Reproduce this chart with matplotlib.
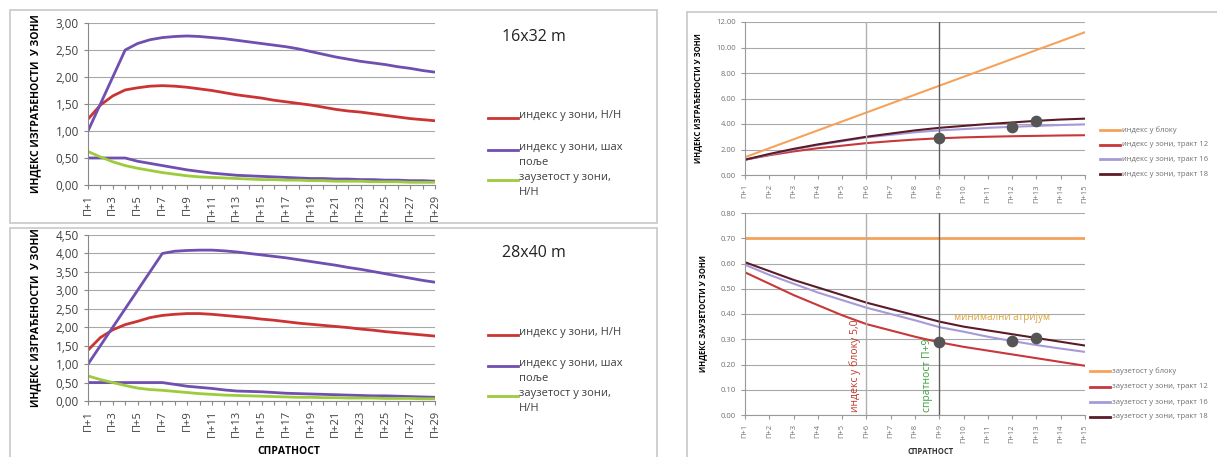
import matplotlib
matplotlib.use("Agg")
import matplotlib.pyplot as plt
from matplotlib.lines import Line2D
from matplotlib.patches import Rectangle

plt.rcParams['font.family'] = ['Open Sans', 'DejaVu Sans']

# === Data: left charts (П+1 .. П+29)
floors_left = [f"П+{i}" for i in range(1, 30)]

red_16 = [1.22, 1.48, 1.65, 1.76, 1.80, 1.83, 1.84, 1.83, 1.81, 1.78,
          1.75, 1.71, 1.67, 1.64, 1.61, 1.57, 1.54, 1.51, 1.48, 1.44,
          1.40, 1.37, 1.35, 1.32, 1.29, 1.26, 1.23, 1.21, 1.19]
purple_16 = [1.00, 1.50, 2.00, 2.50, 2.62, 2.69, 2.73, 2.75, 2.76, 2.75,
             2.73, 2.71, 2.68, 2.65, 2.62, 2.59, 2.56, 2.52, 2.47, 2.42,
             2.37, 2.33, 2.29, 2.26, 2.23, 2.19, 2.16, 2.12, 2.09]
purple_low_16 = [0.50, 0.50, 0.50, 0.50, 0.44, 0.40, 0.36, 0.32, 0.28, 0.25,
                 0.22, 0.20, 0.18, 0.17, 0.16, 0.15, 0.14, 0.13, 0.12, 0.12,
                 0.11, 0.11, 0.10, 0.10, 0.09, 0.09, 0.08, 0.08, 0.07]
green_16 = [0.62, 0.52, 0.43, 0.36, 0.31, 0.27, 0.23, 0.20, 0.17, 0.15,
            0.14, 0.13, 0.12, 0.11, 0.10, 0.10, 0.09, 0.09, 0.08, 0.08,
            0.07, 0.07, 0.07, 0.06, 0.06, 0.06, 0.05, 0.05, 0.05]

red_40 = [1.38, 1.72, 1.93, 2.07, 2.16, 2.26, 2.32, 2.35, 2.37, 2.37,
          2.35, 2.32, 2.29, 2.26, 2.22, 2.19, 2.15, 2.11, 2.08, 2.05,
          2.02, 1.99, 1.95, 1.92, 1.88, 1.85, 1.82, 1.79, 1.76]
purple_40 = [1.00, 1.50, 2.00, 2.50, 3.00, 3.50, 4.00, 4.06, 4.08, 4.09,
             4.09, 4.07, 4.04, 4.00, 3.96, 3.92, 3.88, 3.83, 3.78, 3.73,
             3.68, 3.62, 3.57, 3.51, 3.45, 3.39, 3.33, 3.27, 3.22]
purple_low_40 = [0.50, 0.50, 0.50, 0.50, 0.50, 0.50, 0.50, 0.45, 0.40, 0.37,
                 0.34, 0.30, 0.27, 0.26, 0.25, 0.23, 0.21, 0.20, 0.19, 0.18,
                 0.17, 0.16, 0.15, 0.14, 0.14, 0.13, 0.12, 0.11, 0.10]
green_40 = [0.68, 0.58, 0.50, 0.42, 0.35, 0.31, 0.29, 0.26, 0.23, 0.20,
            0.18, 0.16, 0.15, 0.14, 0.13, 0.12, 0.11, 0.10, 0.10, 0.09,
            0.09, 0.08, 0.08, 0.08, 0.07, 0.07, 0.07, 0.06, 0.06]

left_labels = ["индекс у зони, Н/Н", "индекс у зони, шах\nпоље", "заузетост у зони,\nН/Н"]

# === Data: right charts (П+1 .. П+15)
floors_right = [f"П+{i}" for i in range(1, 16)]

block_index = [1.4, 2.1, 2.8, 3.5, 4.2, 4.9, 5.6, 6.3, 7.0, 7.7, 8.4, 9.1, 9.8, 10.5, 11.2]
zone_index_12 = [1.20, 1.55, 1.85, 2.10, 2.30, 2.50, 2.65, 2.78, 2.88, 2.95, 3.00, 3.04, 3.07, 3.10, 3.12]
zone_index_16 = [1.20, 1.60, 2.00, 2.35, 2.65, 2.95, 3.15, 3.35, 3.50, 3.60, 3.70, 3.78, 3.85, 3.92, 3.97]
zone_index_18 = [1.20, 1.65, 2.05, 2.40, 2.70, 3.00, 3.25, 3.50, 3.70, 3.85, 4.00, 4.12, 4.25, 4.35, 4.42]

block_cov = [0.70] * 15
zone_cov_12 = [0.565, 0.52, 0.475, 0.435, 0.395, 0.36, 0.335, 0.31, 0.288, 0.27, 0.255, 0.24, 0.225, 0.21, 0.195]
zone_cov_16 = [0.595, 0.555, 0.52, 0.485, 0.455, 0.425, 0.40, 0.375, 0.348, 0.33, 0.31, 0.293, 0.277, 0.263, 0.25]
zone_cov_18 = [0.605, 0.57, 0.535, 0.505, 0.475, 0.445, 0.42, 0.395, 0.37, 0.35, 0.335, 0.32, 0.305, 0.29, 0.275]

# highlighted points (floor index, series)
dots_index = [(8, zone_index_12), (11, zone_index_16), (12, zone_index_18)]
dots_cov = [(8, zone_cov_12), (11, zone_cov_16), (12, zone_cov_18)]

index_labels = ["индекс у блоку", "индекс у зони, тракт 12", "индекс у зони, тракт 16", "индекс у зони, тракт 18"]
cov_labels = ["заузетост у блоку", "заузетост у зони, тракт 12", "заузетост у зони, тракт 16", "заузетост у зони, тракт 18"]

C_RED = "#cc3333"
C_PURPLE = "#6f4fb0"
C_GREEN = "#9ccb3c"
C_ORANGE = "#f5a35a"
C_RED2 = "#c8373a"
C_LILAC = "#a69ad8"
C_MAROON = "#5a1c28"
GRID = "#a8a8a8"

fig = plt.figure(figsize=(12.17, 4.57), dpi=100)
W, H = 1217, 457


def fx(px):
    return px / W


def fy(py):
    return 1 - py / H


# panel frames
for (x0, y0, x1, y1) in [(10, 10, 657, 223), (10, 228, 657, 470), (687, 12, 1230, 470)]:
    fig.add_artist(Rectangle((fx(x0), fy(y1)), fx(x1 - x0), (y1 - y0) / H, transform=fig.transFigure,
                             fill=False, edgecolor="#c8c8c8", linewidth=1.2))


def left_chart(rect, series, ymax, title, title_y, legend_y, xlabel=False):
    ax = fig.add_axes(rect)
    x = range(len(floors_left))
    for vals, col in series:
        ax.plot(x, vals, color=col, linewidth=2)
    ax.set_xlim(0, len(floors_left) - 1)
    ax.set_ylim(0, ymax)
    ticks = [i * 0.5 for i in range(int(ymax / 0.5) + 1)]
    ax.set_yticks(ticks)
    ax.set_yticklabels([f"{t:.2f}".replace(".", ",") for t in ticks], fontsize=8.5, color="#404040")
    ax.set_xticks(list(x))
    ax.set_xticklabels([l if i % 2 == 0 else "" for i, l in enumerate(floors_left)],
                       rotation=90, fontsize=8, color="#404040")
    ax.tick_params(axis="x", length=3, color="#888888")
    ax.tick_params(axis="y", length=3, color="#888888")
    ax.grid(axis="y", color=GRID, linewidth=0.8)
    ax.set_axisbelow(True)
    for s in ["top", "right"]:
        ax.spines[s].set_visible(False)
    for s in ["left", "bottom"]:
        ax.spines[s].set_color("#888888")
    ax.set_ylabel("ИНДЕКС ИЗГРАЂЕНОСТИ  У ЗОНИ", fontsize=7.5, fontweight="bold", labelpad=10)
    if xlabel:
        ax.set_xlabel("СПРАТНОСТ", fontsize=7.5, fontweight="bold")
        ax.xaxis.set_label_coords(0.58, -0.27)
    fig.text(fx(502), fy(title_y), title, fontsize=11.5, va="center", color="#222222")
    for (label, col), ly in zip(zip(left_labels, [C_RED, C_PURPLE, C_GREEN]), legend_y):
        fig.add_artist(Line2D([fx(488), fx(518)], [fy(ly), fy(ly)], color=col, linewidth=2,
                              transform=fig.transFigure))
        fig.text(fx(519), fy(ly - 8), label, fontsize=8, va="top", color="#404040", linespacing=1.5)
    return ax


left_chart([fx(88), fy(185), fx(347), 162 / H],
           [(red_16, C_RED), (purple_16, C_PURPLE), (purple_low_16, C_PURPLE), (green_16, C_GREEN)],
           3.0, "16x32 m", 37, [118, 150, 180])
left_chart([fx(88), fy(401), fx(347), 166 / H],
           [(red_40, C_RED), (purple_40, C_PURPLE), (purple_low_40, C_PURPLE), (green_40, C_GREEN)],
           4.5, "28x40 m", 253, [335, 366, 396], xlabel=True)


def right_chart(rect, series, dots, ymax, step, ylabel, labels, legend_y, line_x, xlabel=False):
    ax = fig.add_axes(rect)
    x = list(range(len(floors_right)))
    for vals, col, lw in series:
        ax.plot(x, vals, color=col, linewidth=lw)
    ax.scatter([d[0] for d in dots], [d[1][d[0]] for d in dots], s=55, color="#555555", zorder=5)
    ax.axvline(5, color="#b0b0b0", linewidth=1)
    ax.axvline(8, color="#606060", linewidth=1)
    ax.set_xlim(0, len(floors_right) - 1)
    ax.set_ylim(0, ymax)
    n = int(round(ymax / step))
    ticks = [i * step for i in range(n + 1)]
    ax.set_yticks(ticks)
    ax.set_yticklabels([f"{t:.2f}" for t in ticks], fontsize=5.5, color="#707070")
    ax.set_xticks(x)
    ax.set_xticklabels(floors_right, rotation=90, fontsize=5.5, color="#707070")
    ax.tick_params(length=3, color="#999999")
    ax.grid(axis="y", color=GRID, linewidth=0.8)
    ax.set_axisbelow(True)
    for s in ["top", "right"]:
        ax.spines[s].set_visible(False)
    for s in ["left", "bottom"]:
        ax.spines[s].set_color("#999999")
    ax.set_ylabel(ylabel, fontsize=5.5, fontweight="bold", labelpad=10)
    if xlabel:
        ax.set_xlabel("СПРАТНОСТ", fontsize=5.5, fontweight="bold", color="#333333")
        ax.xaxis.set_label_coords(0.545, -0.16)
    for (label, (vals, col, lw)), ly in zip(zip(labels, series), legend_y):
        fig.add_artist(Line2D([fx(line_x), fx(line_x + 20)], [fy(ly), fy(ly)], color=col, linewidth=2,
                              transform=fig.transFigure))
        fig.text(fx(line_x + 22), fy(ly), label, fontsize=5.5, va="center", color="#707070")
    return ax


right_chart([fx(745), fy(175), fx(340), 153 / H],
            [(block_index, C_ORANGE, 1.5), (zone_index_12, C_RED2, 1.5),
             (zone_index_16, C_LILAC, 1.5), (zone_index_18, C_MAROON, 1.5)],
            dots_index, 12, 2, "ИНДЕКС ИЗГРАЂЕНОСТИ У ЗОНИ", index_labels,
            [130, 145, 159, 174], 1100)

ax4 = right_chart([fx(745), fy(415), fx(340), 202 / H],
                  [(block_cov, C_ORANGE, 2), (zone_cov_12, C_RED2, 1.5),
                   (zone_cov_16, C_LILAC, 1.5), (zone_cov_18, C_MAROON, 1.5)],
                  dots_cov, 0.8, 0.1, "ИНДЕКС ЗАУЗЕТОСТИ У ЗОНИ", cov_labels,
                  [371, 387, 402, 417], 1090, xlabel=True)
ax4.text(8.6, 0.385, "минимални атријум", fontsize=7, color="#d9a440", va="center")
ax4.text(4.55, 0.01, "индекс у блоку 5,0", rotation=90, fontsize=7.5, color="#c0392b", va="bottom", ha="center")
ax4.text(7.5, 0.01, "спратност П+9", rotation=90, fontsize=7.5, color="#3aa03a", va="bottom", ha="center")

fig.savefig("out.png", dpi=100, facecolor="white")
